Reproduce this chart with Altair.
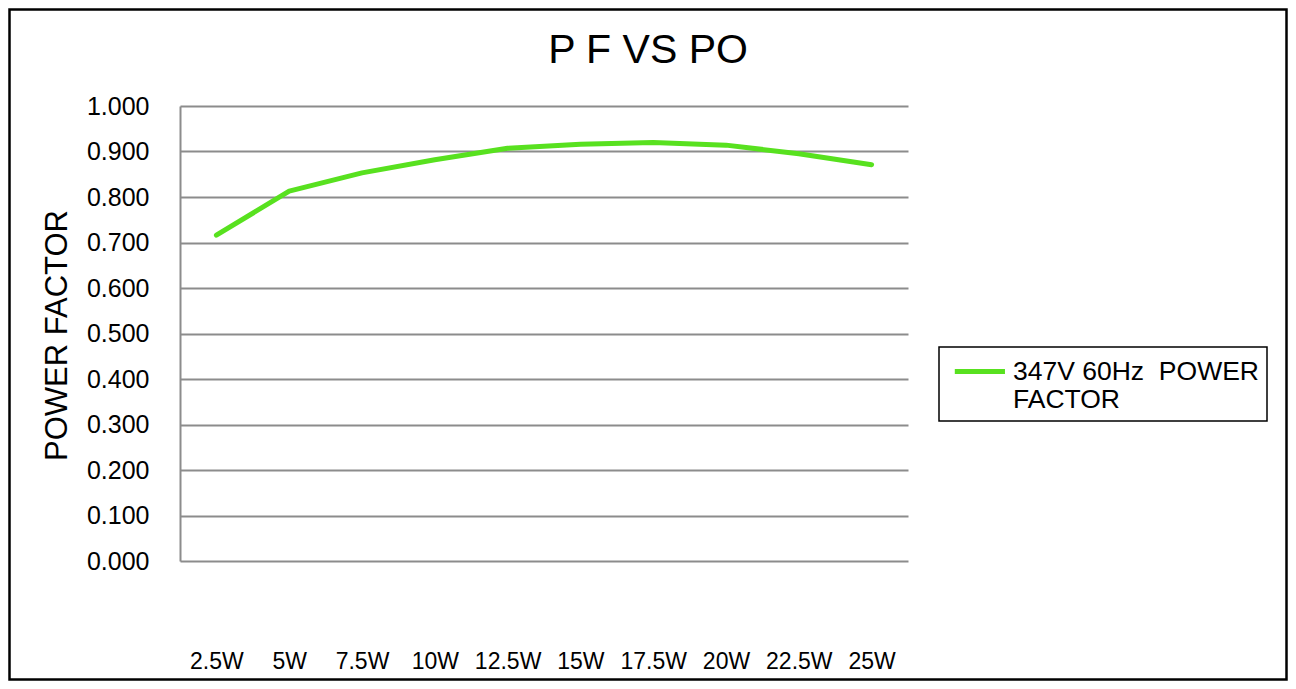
import altair as alt
import pandas as pd

categories = ["2.5W", "5W", "7.5W", "10W", "12.5W", "15W", "17.5W", "20W", "22.5W", "25W"]
power_factor = [0.716, 0.813, 0.853, 0.882, 0.907, 0.916, 0.920, 0.914, 0.895, 0.871]
series_name = "347V 60Hz\u00a0 POWER FACTOR"

df = pd.DataFrame({"po": categories, "pf": power_factor, "series": [series_name] * len(categories)})

FONT = "Liberation Sans"

line = alt.Chart(df).mark_line(strokeWidth=5, strokeCap="round", strokeJoin="round").encode(
    x=alt.X("po:O", sort=categories, title=None,
            scale=alt.Scale(paddingInner=0, paddingOuter=0.5),
            axis=alt.Axis(labelAngle=0, domain=False, ticks=False, tickSize=0, grid=False,
                          labelFontSize=23, labelPadding=89, labelFont=FONT, labelColor="#000000")),
    y=alt.Y("pf:Q", title="POWER FACTOR",
            scale=alt.Scale(domain=[0, 1], nice=False),
            axis=alt.Axis(values=[0, 0.1, 0.2, 0.3, 0.4, 0.5, 0.6, 0.7, 0.8, 0.9, 1.0], format=".3f",
                          domain=True, domainColor="#8C8C8C", domainWidth=2,
                          ticks=False, tickSize=0, grid=True, gridColor="#8C8C8C", gridWidth=2,
                          labelFontSize=25, labelPadding=31, labelFont=FONT, labelColor="#000000",
                          titleFontSize=31, titleFont=FONT, titleFontWeight="normal", titleColor="#000000",
                          titleX=-123, titleY=229, titleAlign="center", titleBaseline="middle")),
    color=alt.Color("series:N", scale=alt.Scale(range=["#58E11F"]),
                    legend=alt.Legend(title=None, orient="none", legendX=759, legendY=241,
                                      padding=7.5, strokeColor="#000000",
                                      symbolType="M-0.6,0L2.86,0", symbolSize=841, symbolStrokeWidth=5,
                                      symbolFillColor="transparent",
                                      labelFontSize=26.5, labelFont=FONT, labelColor="#000000",
                                      labelLimit=400, labelOffset=32.5,
                                      labelExpr="[slice(datum.label, 0, 16), slice(datum.label, 17)]")),
)

frame = alt.Chart(pd.DataFrame({"frame": [0]})).mark_rect(
    filled=False, stroke="#000000", strokeWidth=2.5
).encode(
    x=alt.value(-170.5), x2=alt.value(1106.5), y=alt.value(-96.5), y2=alt.value(573.5)
)

chart = alt.layer(frame, line).properties(
    width=728, height=455,
    title=alt.TitleParams("P F VS PO", fontSize=41, font=FONT, fontWeight="normal", color="#000000",
                          anchor="middle", frame="group", dx=104, dy=96, offset=0,
                          baseline="alphabetic"),
    autosize=alt.AutoSizeParams(type="none"),
    padding={"left": 172, "top": 98, "right": 380, "bottom": 120},
    background="#FFFFFF",
).configure_view(stroke=None).configure_legend(strokeWidth=1.5)

chart.save("out.html", embed_options={"renderer": "svg", "actions": False})
